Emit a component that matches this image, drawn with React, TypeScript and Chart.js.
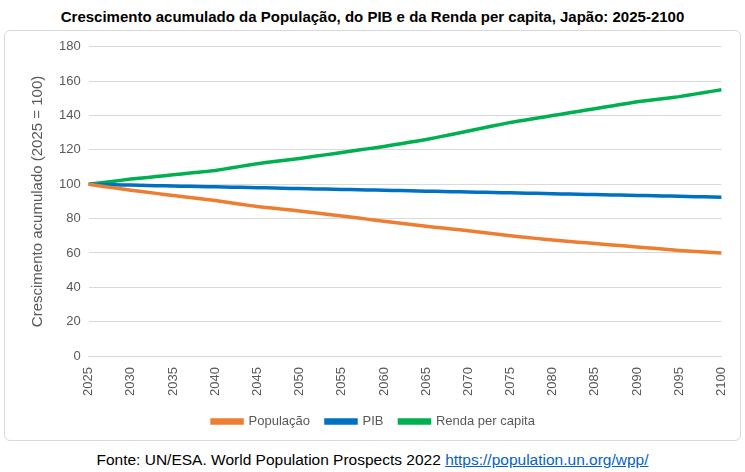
import React, { useEffect, useRef } from "react";
import { Chart, registerables } from "chart.js";
Chart.register(...registerables);

const years: string[] = [];
for (let y = 2025; y <= 2100; y++) years.push(String(y));

const populacao = [
  100, 99.3, 98.6, 97.9, 97.2, 96.5, 95.9, 95.3, 94.7, 94.1,
  93.5, 92.9, 92.3, 91.7, 91.1, 90.5, 89.8, 89.1, 88.4, 87.7,
  87, 86.5, 86, 85.5, 85, 84.5, 83.9, 83.3, 82.7, 82.1,
  81.5, 80.9, 80.3, 79.7, 79.1, 78.5, 77.9, 77.3, 76.7, 76.1,
  75.5, 75, 74.5, 74, 73.5, 73, 72.4, 71.8, 71.2, 70.6,
  70, 69.5, 69, 68.5, 68, 67.5, 67.1, 66.7, 66.3, 65.9,
  65.5, 65.1, 64.7, 64.3, 63.9, 63.5, 63.1, 62.7, 62.3, 61.9,
  61.5, 61.2, 60.9, 60.6, 60.3, 60,
];
const pib = [
  100, 99.9, 99.8, 99.7, 99.6, 99.5, 99.4, 99.3, 99.2, 99.1,
  99, 98.9, 98.8, 98.7, 98.6, 98.5, 98.4, 98.3, 98.2, 98.1,
  98, 97.9, 97.8, 97.7, 97.6, 97.5, 97.4, 97.3, 97.2, 97.1,
  97, 96.9, 96.8, 96.7, 96.6, 96.5, 96.4, 96.3, 96.2, 96.1,
  96, 95.9, 95.8, 95.7, 95.6, 95.5, 95.4, 95.3, 95.2, 95.1,
  95, 94.9, 94.8, 94.7, 94.6, 94.5, 94.4, 94.3, 94.2, 94.1,
  94, 93.9, 93.8, 93.7, 93.6, 93.5, 93.4, 93.3, 93.2, 93.1,
  93, 92.9, 92.8, 92.7, 92.6, 92.5,
];
const renda = [
  100, 100.6, 101.2, 101.8, 102.4, 103, 103.5, 104, 104.5, 105,
  105.5, 106, 106.5, 107, 107.5, 108, 108.8, 109.6, 110.4, 111.2,
  112, 112.6, 113.2, 113.8, 114.4, 115, 115.7, 116.4, 117.1, 117.8,
  118.5, 119.2, 119.9, 120.6, 121.3, 122, 122.8, 123.6, 124.4, 125.2,
  126, 127, 128, 129, 130, 131, 132, 133, 134, 135,
  136, 136.8, 137.6, 138.4, 139.2, 140, 140.8, 141.6, 142.4, 143.2,
  144, 144.8, 145.6, 146.4, 147.2, 148, 148.6, 149.2, 149.8, 150.4,
  151, 151.8, 152.6, 153.4, 154.2, 155,
];

const FONT = "'Liberation Sans', Arial, sans-serif";

export default function App() {
  const ref = useRef<HTMLCanvasElement>(null);
  useEffect(() => {
    const mk = (label: string, data: number[], color: string) => ({
      label, data, borderColor: color, backgroundColor: color,
      borderWidth: 3.5, pointRadius: 0, tension: 0,
    });
    const chart = new Chart(ref.current!, {
      type: "line",
      data: {
        labels: years,
        datasets: [
          mk("População", populacao, "#ED7D31"),
          mk("PIB", pib, "#0070C0"),
          mk("Renda per capita", renda, "#00B050"),
        ],
      },
      options: {
        animation: false,
        responsive: false,
        layout: { padding: { left: 20, right: 18, top: 11, bottom: 2 } },
        plugins: {
          legend: {
            position: "bottom",
            labels: {
              font: { family: FONT, size: 13 }, color: "#595959",
              boxWidth: 30, boxHeight: 3, padding: 16,
            },
          },
          tooltip: { enabled: false },
        },
        scales: {
          x: {
            grid: { display: false },
            border: { color: "#D9D9D9" },
            ticks: {
              autoSkip: false, maxRotation: 90, minRotation: 90,
              font: { family: FONT, size: 13 }, color: "#595959",
              callback: (v: any, i: number) => (Number(years[i]) % 5 === 0 ? years[i] : ""),
            },
          },
          y: {
            min: 0, max: 180,
            ticks: { stepSize: 20, font: { family: FONT, size: 13 }, color: "#595959", padding: 8 },
            grid: { color: "#D9D9D9", drawTicks: false },
            border: { display: false },
            title: {
              display: true, text: "Crescimento acumulado (2025 = 100)",
              font: { family: FONT, size: 15 }, color: "#595959",
            },
          },
        },
      },
    });
    return () => chart.destroy();
  }, []);
  return (
    <div style={{ position: "absolute", left: 0, top: 0, width: 745, height: 472, background: "#fff", fontFamily: FONT }}>
      <div style={{ position: "absolute", top: 8, left: 0, width: 745, textAlign: "center", fontWeight: "bold", fontSize: 15, color: "#000" }}>
        Crescimento acumulado da População, do PIB e da Renda per capita, Japão: 2025-2100
      </div>
      <div style={{ position: "absolute", left: 4, top: 30, width: 735, height: 409, border: "1px solid #D9D9D9", borderRadius: 6 }}>
        <canvas ref={ref} width={735} height={409} />
      </div>
      <div style={{ position: "absolute", top: 451, left: 0, width: 745, textAlign: "center", fontSize: 15.5, color: "#000" }}>
        Fonte: UN/ESA. World Population Prospects 2022{" "}
        <span style={{ color: "#0563C1", textDecoration: "underline" }}>https://population.un.org/wpp/</span>
      </div>
    </div>
  );
}
